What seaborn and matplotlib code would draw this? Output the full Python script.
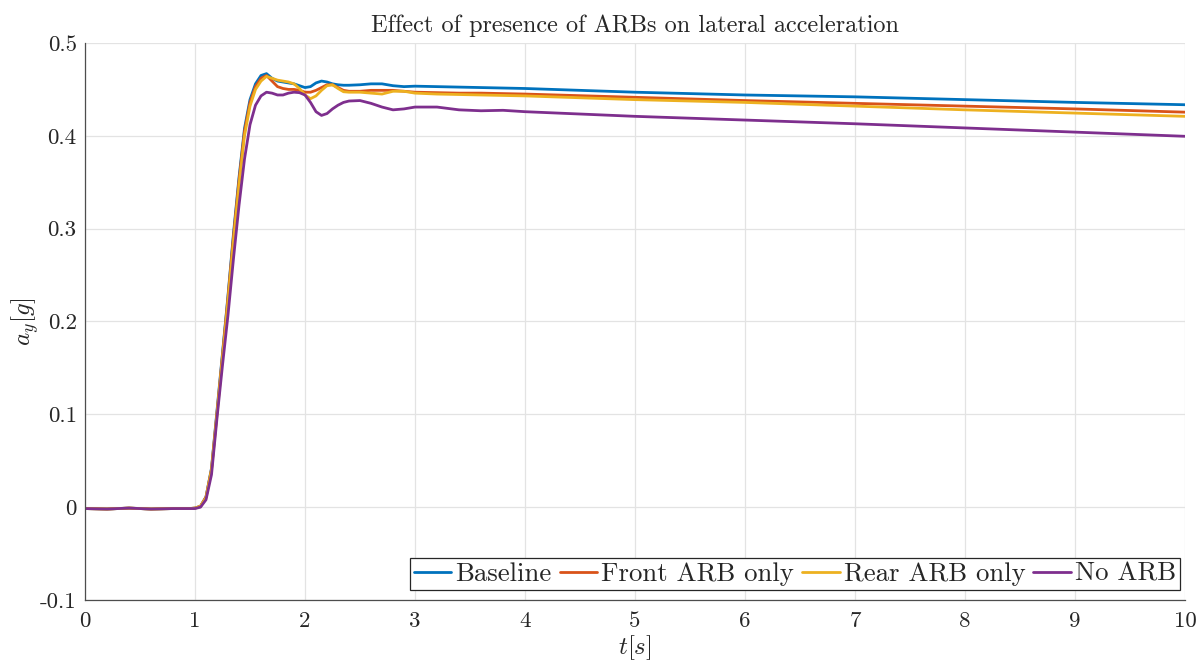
import matplotlib
matplotlib.use("Agg")
import matplotlib.pyplot as plt
import numpy as np
import pandas as pd
import seaborn as sns

# Time base [s]
time_s = [0, 0.2, 0.4, 0.6, 0.8, 0.95,
          1.0, 1.05, 1.1, 1.15, 1.2, 1.25, 1.3, 1.35, 1.4, 1.45, 1.5, 1.55, 1.6, 1.65,
          1.7, 1.75, 1.8, 1.85, 1.9, 1.95, 2.0, 2.05, 2.1, 2.15, 2.2, 2.25, 2.3, 2.35,
          2.4, 2.5, 2.6, 2.7, 2.8, 2.9, 3.0, 3.2, 3.4, 3.6, 3.8,
          4, 5, 6, 7, 8, 9, 10]

# Lateral acceleration a_y [g] for each anti-roll-bar configuration
baseline = [-0.0015, -0.002, -0.001, -0.002, -0.0015, -0.0015,
            -0.001, 0.001, 0.011, 0.042, 0.104, 0.166, 0.228, 0.295, 0.355, 0.408, 0.439, 0.456, 0.465, 0.467,
            0.462, 0.459, 0.458, 0.457, 0.456, 0.454, 0.452, 0.453, 0.457, 0.459, 0.458, 0.456, 0.455, 0.4545,
            0.4545, 0.455, 0.456, 0.456, 0.454, 0.453, 0.4535, 0.453, 0.4525, 0.452, 0.4515,
            0.451, 0.447, 0.444, 0.442, 0.439, 0.436, 0.4335]

front_arb = [-0.0015, -0.002, -0.001, -0.002, -0.0015, -0.0015,
             -0.001, 0.001, 0.011, 0.041, 0.102, 0.164, 0.226, 0.292, 0.352, 0.405, 0.436, 0.453, 0.462, 0.465,
             0.459, 0.453, 0.451, 0.450, 0.450, 0.449, 0.447, 0.447, 0.449, 0.452, 0.455, 0.455, 0.452, 0.449,
             0.448, 0.448, 0.449, 0.449, 0.449, 0.448, 0.447, 0.4465, 0.446, 0.446, 0.4455,
             0.445, 0.4415, 0.438, 0.435, 0.432, 0.429, 0.4255]

rear_arb = [-0.0015, -0.002, -0.001, -0.002, -0.0015, -0.0015,
            -0.001, 0.001, 0.010, 0.040, 0.100, 0.161, 0.222, 0.287, 0.347, 0.400, 0.432, 0.450, 0.459, 0.464,
            0.462, 0.460, 0.459, 0.458, 0.456, 0.451, 0.444, 0.440, 0.443, 0.449, 0.454, 0.455, 0.451, 0.4475,
            0.447, 0.447, 0.446, 0.445, 0.448, 0.448, 0.446, 0.445, 0.4445, 0.444, 0.4435,
            0.443, 0.439, 0.436, 0.432, 0.428, 0.4245, 0.421]

no_arb = [-0.0015, -0.002, -0.001, -0.002, -0.0015, -0.0015,
          -0.0015, 0.000, 0.008, 0.035, 0.096, 0.153, 0.207, 0.268, 0.325, 0.375, 0.412, 0.433, 0.443, 0.447,
          0.446, 0.444, 0.444, 0.446, 0.447, 0.4465, 0.444, 0.436, 0.426, 0.422, 0.424, 0.429, 0.433, 0.436,
          0.4375, 0.438, 0.435, 0.431, 0.428, 0.429, 0.431, 0.431, 0.428, 0.427, 0.4275,
          0.426, 0.421, 0.417, 0.413, 0.4085, 0.404, 0.3995]

series_names = ["Baseline", "Front ARB only", "Rear ARB only", "No ARB"]
series_values = [baseline, front_arb, rear_arb, no_arb]
series_colors = ["#0072BD", "#D95319", "#EDB120", "#7E2F8E"]

x_ticks = [0, 1, 2, 3, 4, 5, 6, 7, 8, 9, 10]
y_ticks = [-0.1, 0, 0.1, 0.2, 0.3, 0.4, 0.5]
y_tick_labels = ["-0.1", "0", "0.1", "0.2", "0.3", "0.4", "0.5"]

df = pd.concat(
    [pd.DataFrame({"t": time_s, "ay": vals, "config": name})
     for name, vals in zip(series_names, series_values)],
    ignore_index=True,
)

sns.set_theme(style="white")
plt.rcParams["font.family"] = ["cmr10", "DejaVu Serif"]
plt.rcParams["mathtext.fontset"] = "cm"
plt.rcParams["axes.unicode_minus"] = False
plt.rcParams["axes.formatter.use_mathtext"] = True

fig = plt.figure(figsize=(12.03, 6.62), dpi=100)
ax = fig.add_axes([85 / 1203, 62 / 662, 1100 / 1203, 557 / 662])

sns.lineplot(
    data=df, x="t", y="ay", hue="config", hue_order=series_names,
    palette=dict(zip(series_names, series_colors)),
    estimator=None, sort=False, linewidth=2.0, legend=False, ax=ax,
)

ax.set_xlim(0, 10)
ax.set_ylim(-0.1, 0.5)
ax.set_xticks(x_ticks)
ax.set_xticklabels([str(v) for v in x_ticks])
ax.set_yticks(y_ticks)
ax.set_yticklabels(y_tick_labels)

ax.grid(True, color="#e3e3e3", linewidth=0.9)
ax.set_axisbelow(True)
for side in ("top", "right"):
    ax.spines[side].set_visible(False)
for side in ("left", "bottom"):
    ax.spines[side].set_color("#4d4d4d")
    ax.spines[side].set_linewidth(0.9)

ax.tick_params(axis="both", direction="in", length=5, width=0.9, color="#4d4d4d",
               labelsize=16.5, labelcolor="#262626")
ax.tick_params(axis="x", pad=8)
ax.tick_params(axis="y", pad=6)

ax.set_xlabel(r"$t[s]$", fontsize=18, color="#262626", labelpad=2)
ax.set_ylabel(r"$a_y[g]$", fontsize=18, color="#262626", labelpad=-1)
ax.set_title("Effect of presence of ARBs on lateral acceleration",
             fontsize=17.5, color="#262626", pad=8)

leg = ax.legend(
    handles=ax.lines[:4], labels=series_names, ncol=4,
    loc="lower right", bbox_to_anchor=(0.9955, 0.018), borderaxespad=0,
    fontsize=19.3, handlelength=1.4, handletextpad=0.15, columnspacing=0.3,
    borderpad=0.15, fancybox=False, framealpha=1, edgecolor="#262626",
)
leg.get_frame().set_linewidth(0.9)

fig.savefig("out.png", dpi=100)
